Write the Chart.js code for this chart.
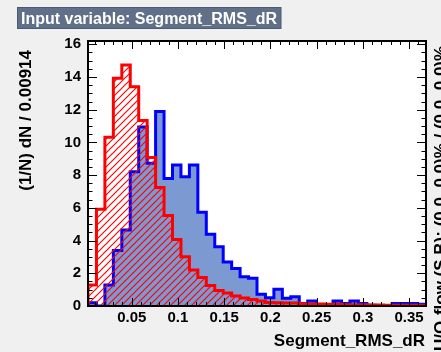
<!DOCTYPE html>
<html>
<head>
<meta charset="utf-8">
<script src="https://cdn.jsdelivr.net/npm/chart.js@4.4.0/dist/chart.umd.min.js"></script>
<style>
  html, body { margin: 0; padding: 0; background: #f0f0f0; }
  canvas { display: block; }
</style>
</head>
<body>
<canvas id="histChart" width="441" height="352"></canvas>
<script>
// binning of the input variable
const xMin = 0.0027;
const binWidth = 0.00914;
const nBins = 40;

// signal (blue, filled) and background (red, hatched), normalised
const signalValues = [0.2, 0, 1.28, 3.39, 4.65, 8.21, 10.94, 8.72, 11.89, 7.8,
    8.62, 7.9, 8.62, 5.73, 4.38, 3.62, 2.69, 2.3, 1.79, 1.69,
    0.72, 0.51, 1.02, 0.47, 0.57, 0.16, 0.3, 0, 0, 0.3,
    0.15, 0.3, 0.15, 0.05, 0, 0, 0.15, 0.15, 0.15, 0.1];
const backgroundValues = [1.28, 5.91, 10.31, 13.92, 14.73, 13.4, 11.34, 9.08, 7.24, 5.53,
    4.06, 3.01, 2.2, 1.74, 1.25, 0.95, 0.8, 0.61, 0.49, 0.4,
    0.3, 0.22, 0.2, 0.18, 0.18, 0.14, 0.12, 0.12, 0.1, 0.1,
    0.08, 0.08, 0.07, 0.06, 0.06, 0.05, 0.05, 0.04, 0.04, 0.04];

const xTicks = [0.05, 0.1, 0.15, 0.2, 0.25, 0.3, 0.35];
const yTicks = [0, 2, 4, 6, 8, 10, 12, 14, 16];
const yMax = 16.2;

const titleText = "Input variable: Segment_RMS_dR";
const xTitle = "Segment_RMS_dR";
const yTitle = "(1/N) dN / 0.00914";
const flowText = "U/O-flow (S,B): (0.0, 0.0)% / (0.0, 0.0)%";

function stepPoints(values){
    let pts = [{x: xMin, y: 0}];
    for (let i = 0; i < values.length; i++) {
        pts.push({x: xMin + i * binWidth, y: values[i]});
    }
    pts.push({x: xMin + nBins * binWidth, y: values[values.length - 1]});
    pts.push({x: xMin + nBins * binWidth, y: 0});
    return pts;
}

function hatchPattern(){
    const c = document.createElement("canvas");
    c.width = 7; c.height = 7;
    const g = c.getContext("2d");
    g.strokeStyle = "#ff0000";
    g.lineWidth = 1.2;
    g.beginPath();
    g.moveTo(-1, 8); g.lineTo(8, -1);
    g.moveTo(-1, 1); g.lineTo(1, -1);
    g.moveTo(6, 8); g.lineTo(8, 6);
    g.stroke();
    return g.createPattern(c, "repeat");
}

const FONT = "'Liberation Sans', Arial, sans-serif";

const rootFrame = {
    id: "rootFrame",
    beforeDraw(chart){
        const ctx = chart.ctx;
        ctx.save();
        ctx.fillStyle = "#f0f0f0";
        ctx.fillRect(0, 0, chart.width, chart.height);
        const a = chart.chartArea;
        ctx.fillStyle = "#ffffff";
        ctx.fillRect(a.left, a.top, a.right - a.left, a.bottom - a.top);
        ctx.restore();
    },
    afterDatasetsDraw(chart){
        const ctx = chart.ctx;
        const a = chart.chartArea;
        const xs = chart.scales.x, ys = chart.scales.y;
        ctx.save();
        ctx.strokeStyle = "#000";
        ctx.lineWidth = 1;
        ctx.beginPath();
        // x ticks, every 0.01, major every 0.05
        for (let k = 1; k <= 36; k++) {
            const v = k * 0.01;
            const px = Math.round(xs.getPixelForValue(v)) + 0.5;
            if (px < a.left || px > a.right) continue;
            const len = (k % 5 === 0) ? 8 : 4;
            ctx.moveTo(px, a.bottom); ctx.lineTo(px, a.bottom - len);
            ctx.moveTo(px, a.top); ctx.lineTo(px, a.top + len);
        }
        // y ticks, every 0.5, major every 2
        for (let k = 0; k <= 32; k++) {
            const v = k * 0.5;
            const py = Math.round(ys.getPixelForValue(v)) + 0.5;
            const len = (k % 4 === 0) ? 9 : 4.5;
            ctx.moveTo(a.left, py); ctx.lineTo(a.left + len, py);
            ctx.moveTo(a.right, py); ctx.lineTo(a.right - len, py);
        }
        ctx.stroke();
        ctx.lineWidth = 2;
        ctx.strokeRect(a.left, a.top, a.right - a.left, a.bottom - a.top);
        ctx.restore();
    },
    afterDraw(chart){
        const ctx = chart.ctx;
        ctx.save();
        // title box
        ctx.fillStyle = "#607088";
        ctx.fillRect(17.5, 7.5, 263.5, 21);
        ctx.strokeStyle = "#4c5b72";
        ctx.lineWidth = 1;
        ctx.strokeRect(17.5, 7.5, 263.5, 21);
        ctx.fillStyle = "#ffffff";
        ctx.font = "bold 16px " + FONT;
        ctx.textBaseline = "alphabetic";
        ctx.textAlign = "left";
        ctx.fillText(titleText, 21, 23.5);
        // x axis title
        ctx.fillStyle = "#000";
        ctx.font = "bold 17px " + FONT;
        ctx.textAlign = "right";
        ctx.fillText(xTitle, 425, 346);
        // y axis title
        ctx.save();
        ctx.translate(31, 50);
        ctx.rotate(-Math.PI / 2);
        ctx.textAlign = "right";
        ctx.fillText(yTitle, 0, 0);
        ctx.restore();
        // under/overflow text
        ctx.save();
        ctx.translate(446, 351);
        ctx.rotate(-Math.PI / 2);
        ctx.textAlign = "left";
        ctx.font = "bold 17px " + FONT;
        ctx.fillText(flowText, 0, 0);
        ctx.restore();
        ctx.restore();
    }
};

function init(){
    const ctx = document.getElementById("histChart");
    const data = {
        datasets: [{
            label: "Signal",
            data: stepPoints(signalValues),
            stepped: true,
            borderColor: "#0000ff",
            borderWidth: 3,
            backgroundColor: "#7d99d1",
            fill: "origin",
            pointRadius: 0,
            order: 2
        }, {
            label: "Background",
            data: stepPoints(backgroundValues),
            stepped: true,
            borderColor: "#ff0000",
            borderWidth: 3,
            backgroundColor: hatchPattern(),
            fill: "origin",
            pointRadius: 0,
            order: 1
        }]
    };
    const config = {
        type: "line",
        data: data,
        options: {
            responsive: false,
            animation: false,
            devicePixelRatio: 1,
            layout: { padding: { top: 41, right: 15, left: 0, bottom: 0 } },
            plugins: { legend: { display: false }, tooltip: { enabled: false } },
            scales: {
                x: {
                    type: "linear",
                    min: xMin,
                    max: xMin + nBins * binWidth,
                    grid: { display: false, drawTicks: false },
                    border: { display: false },
                    afterFit: (s) => { s.height = 46; },
                    afterBuildTicks: (s) => { s.ticks = xTicks.map(v => ({value: v})); },
                    ticks: {
                        autoSkip: false,
                        maxRotation: 0,
                        padding: 3,
                        color: "#000",
                        font: { family: FONT, size: 15, weight: "bold" },
                        callback: (v) => String(Number(v.toFixed(2)))
                    }
                },
                y: {
                    min: 0,
                    max: yMax,
                    grid: { display: false, drawTicks: false },
                    border: { display: false },
                    afterFit: (s) => { s.width = 88; },
                    afterBuildTicks: (s) => { s.ticks = yTicks.map(v => ({value: v})); },
                    ticks: {
                        autoSkip: false,
                        padding: 7,
                        color: "#000",
                        font: { family: FONT, size: 15, weight: "bold" }
                    }
                }
            }
        },
        plugins: [rootFrame]
    };
    new Chart(ctx, config);
}

document.addEventListener("DOMContentLoaded", init, false);
</script>
</body>
</html>
